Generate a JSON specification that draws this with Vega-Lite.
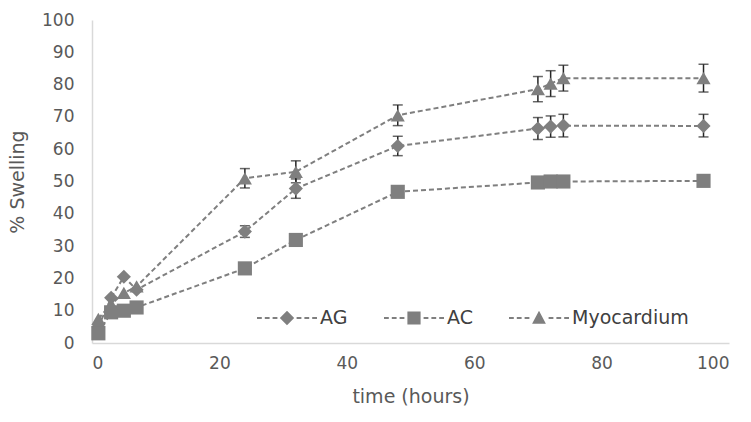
{
  "$schema": "https://vega.github.io/schema/vega-lite/v6.json",
  "width": 637,
  "height": 323,
  "autosize": {"type": "none"},
  "padding": {"left": 92, "top": 20, "right": 22, "bottom": 79},
  "background": "white",
  "config": {
    "view": {"stroke": null},
    "font": "DejaVu Sans",
    "axis": {"grid": false, "ticks": false, "domainColor": "#d9d9d9", "domainWidth": 1.5, "labelColor": "#595959", "titleColor": "#595959", "labelFontSize": 17, "titleFontSize": 19, "titleFontWeight": "normal", "labelFont": "DejaVu Sans", "titleFont": "DejaVu Sans", "labelOverlap": false}
  },
  "datasets": {
    "pts": [
      {"t": 1, "s": "AG", "v": 5},
      {"t": 3, "s": "AG", "v": 14},
      {"t": 5, "s": "AG", "v": 20.5},
      {"t": 7, "s": "AG", "v": 16.5},
      {"t": 24, "s": "AG", "v": 34.5},
      {"t": 32, "s": "AG", "v": 47.8},
      {"t": 48, "s": "AG", "v": 61},
      {"t": 70, "s": "AG", "v": 66.4},
      {"t": 72, "s": "AG", "v": 67},
      {"t": 74, "s": "AG", "v": 67.3},
      {"t": 96, "s": "AG", "v": 67.2},
      {"t": 1, "s": "AC", "v": 3},
      {"t": 3, "s": "AC", "v": 9.5},
      {"t": 5, "s": "AC", "v": 10},
      {"t": 7, "s": "AC", "v": 11},
      {"t": 24, "s": "AC", "v": 23.1},
      {"t": 32, "s": "AC", "v": 31.9},
      {"t": 48, "s": "AC", "v": 46.8},
      {"t": 70, "s": "AC", "v": 49.7},
      {"t": 72, "s": "AC", "v": 50},
      {"t": 74, "s": "AC", "v": 50},
      {"t": 96, "s": "AC", "v": 50.2},
      {"t": 1, "s": "Myocardium", "v": 7.5},
      {"t": 3, "s": "Myocardium", "v": 12},
      {"t": 5, "s": "Myocardium", "v": 15.5},
      {"t": 7, "s": "Myocardium", "v": 17.5},
      {"t": 24, "s": "Myocardium", "v": 51},
      {"t": 32, "s": "Myocardium", "v": 53},
      {"t": 48, "s": "Myocardium", "v": 70.5},
      {"t": 70, "s": "Myocardium", "v": 78.6},
      {"t": 72, "s": "Myocardium", "v": 80.3},
      {"t": 74, "s": "Myocardium", "v": 82},
      {"t": 96, "s": "Myocardium", "v": 82}
    ],
    "err": [
      {"t": 24, "s": "AG", "lo": 32.7, "hi": 36.3},
      {"t": 32, "s": "AG", "lo": 44.8, "hi": 50.8},
      {"t": 48, "s": "AG", "lo": 58, "hi": 64},
      {"t": 70, "s": "AG", "lo": 63, "hi": 69.8},
      {"t": 72, "s": "AG", "lo": 63.7, "hi": 70.3},
      {"t": 74, "s": "AG", "lo": 63.8, "hi": 70.8},
      {"t": 96, "s": "AG", "lo": 63.8, "hi": 70.8},
      {"t": 24, "s": "Myocardium", "lo": 48, "hi": 54},
      {"t": 32, "s": "Myocardium", "lo": 49.6, "hi": 56.4},
      {"t": 48, "s": "Myocardium", "lo": 67.3, "hi": 73.7},
      {"t": 70, "s": "Myocardium", "lo": 74.7, "hi": 82.5},
      {"t": 72, "s": "Myocardium", "lo": 76.3, "hi": 84.3},
      {"t": 74, "s": "Myocardium", "lo": 78, "hi": 86},
      {"t": 96, "s": "Myocardium", "lo": 77.7, "hi": 86.3}
    ]
  },
  "resolve": {"scale": {"shape": "independent"}},
  "layer": [
    {
      "data": {"name": "err"},
      "mark": {"type": "errorbar", "ticks": {"size": 10, "color": "#262626", "thickness": 1.5}, "rule": {"color": "#262626", "strokeWidth": 1.5}},
      "encoding": {
        "x": {"field": "t", "type": "quantitative", "scale": {"domain": [0, 100]}, "axis": {"values": [0, 20, 40, 60, 80, 100], "title": "time (hours)", "labelPadding": 12, "titlePadding": 16}},
        "y": {"field": "lo", "type": "quantitative", "scale": {"domain": [0, 100]}, "axis": {"values": [0, 10, 20, 30, 40, 50, 60, 70, 80, 90, 100], "title": "% Swelling", "labelPadding": 18, "titlePadding": 14}},
        "y2": {"field": "hi"}
      }
    },
    {
      "data": {"name": "pts"},
      "mark": {"type": "line", "color": "#7f7f7f", "strokeWidth": 2, "strokeDash": [5, 3]},
      "encoding": {
        "x": {"field": "t", "type": "quantitative", "axis": {"values": [0, 20, 40, 60, 80, 100], "title": "time (hours)", "labelPadding": 12, "titlePadding": 16}},
        "y": {"field": "v", "type": "quantitative", "axis": {"values": [0, 10, 20, 30, 40, 50, 60, 70, 80, 90, 100], "title": "% Swelling", "labelPadding": 18, "titlePadding": 14}},
        "detail": {"field": "s"}
      }
    },
    {
      "data": {"name": "pts"},
      "mark": {"type": "point", "filled": true, "color": "#7f7f7f", "opacity": 1, "size": 200},
      "encoding": {
        "x": {"field": "t", "type": "quantitative", "axis": {"values": [0, 20, 40, 60, 80, 100], "title": "time (hours)", "labelPadding": 12, "titlePadding": 16}},
        "y": {"field": "v", "type": "quantitative", "axis": {"values": [0, 10, 20, 30, 40, 50, 60, 70, 80, 90, 100], "title": "% Swelling", "labelPadding": 18, "titlePadding": 14}},
        "shape": {
          "field": "s",
          "type": "nominal",
          "scale": {"domain": ["AG", "AC", "Myocardium"], "range": ["diamond", "square", "triangle-up"]},
          "legend": null
        }
      }
    },
    {
      "data": {"name": "pts"},
      "transform": [{"filter": {"field": "v", "lt": -1}}],
      "mark": {"type": "point", "filled": true, "color": "#7f7f7f", "opacity": 1},
      "encoding": {
        "x": {"field": "t", "type": "quantitative", "axis": {"values": [0, 20, 40, 60, 80, 100], "title": "time (hours)", "labelPadding": 12, "titlePadding": 16}},
        "y": {"field": "v", "type": "quantitative", "axis": {"values": [0, 10, 20, 30, 40, 50, 60, 70, 80, 90, 100], "title": "% Swelling", "labelPadding": 18, "titlePadding": 14}},
        "shape": {
          "field": "s",
          "type": "nominal",
          "scale": {"domain": ["AG", "AC", "Myocardium"], "range": [
            "M-1,-0.035H-0.84V0.035H-1Z M-0.74,-0.035H-0.58V0.035H-0.74Z M-0.48,-0.035H-0.32V0.035H-0.48Z M0.32,-0.035H0.48V0.035H0.32Z M0.58,-0.035H0.74V0.035H0.58Z M0.84,-0.035H1V0.035H0.84Z M0,-0.24L0.24,0L0,0.24L-0.24,0Z",
            "M-1,-0.035H-0.84V0.035H-1Z M-0.74,-0.035H-0.58V0.035H-0.74Z M-0.48,-0.035H-0.32V0.035H-0.48Z M0.32,-0.035H0.48V0.035H0.32Z M0.58,-0.035H0.74V0.035H0.58Z M0.84,-0.035H1V0.035H0.84Z M-0.22,-0.22H0.22V0.22H-0.22Z",
            "M-1,-0.035H-0.84V0.035H-1Z M-0.74,-0.035H-0.58V0.035H-0.74Z M-0.48,-0.035H-0.32V0.035H-0.48Z M0.32,-0.035H0.48V0.035H0.32Z M0.58,-0.035H0.74V0.035H0.58Z M0.84,-0.035H1V0.035H0.84Z M0,-0.24L0.23,0.19H-0.23Z"
          ]},
          "legend": {
            "title": null,
            "orient": "none",
            "direction": "horizontal",
            "legendX": 165,
            "legendY": 268,
            "symbolSize": 3600,
            "symbolFillColor": "#7f7f7f",
            "symbolStrokeWidth": 0,
            "symbolOpacity": 1,
            "labelFontSize": 19,
            "labelColor": "#404040",
            "labelOffset": 3,
            "columnPadding": 36
          }
        }
      }
    }
  ]
}
